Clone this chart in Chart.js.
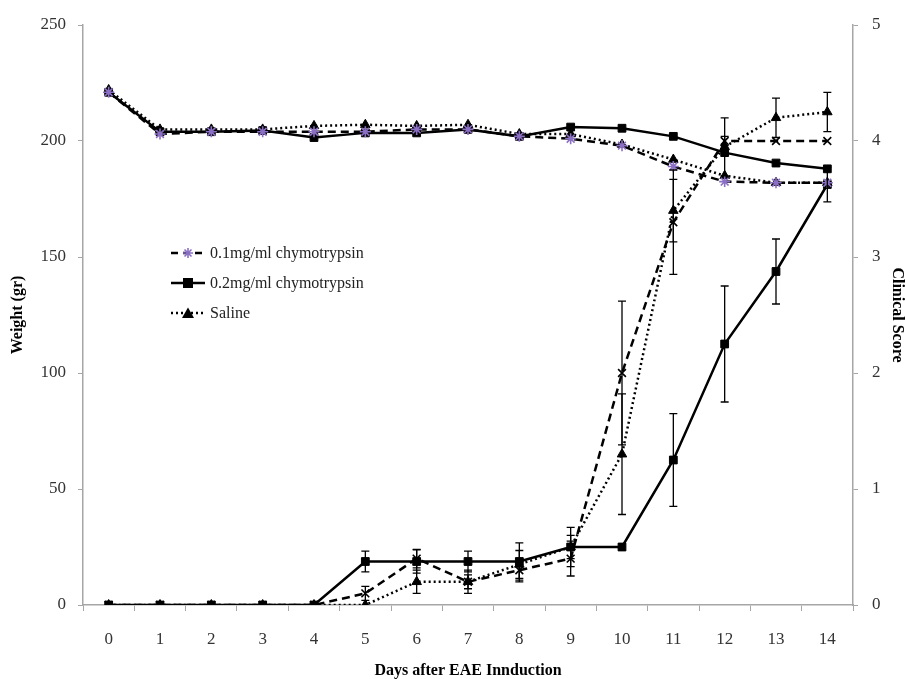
<!DOCTYPE html>
<html>
<head>
<meta charset="utf-8">
<script src="https://cdn.jsdelivr.net/npm/chart.js@4.4.1/dist/chart.umd.min.js"></script>
<style>
    body { margin: 0; background: #fff; }
    #chartBox { position: relative; width: 905px; height: 679px; }
    #legend {
        position: absolute; left: 170px; top: 238px;
        font-family: 'Liberation Serif', serif; font-size: 16px; color: #222;
    }
    #legend div { height: 30px; display: flex; align-items: center; }
    #legend svg { margin-right: 4px; }
</style>
</head>
<body>
<div id="chartBox">
    <canvas id="eaeChart" width="905" height="679"></canvas>
    <div id="legend">
        <div><svg width="36" height="14"><line x1="1" y1="7" x2="35" y2="7" stroke="#000" stroke-width="2.5" stroke-dasharray="7,5"/><path d="M13 7h10M18 2v10M14.5 3.5l7 7M21.5 3.5l-7 7" stroke="#8b6fc4" stroke-width="1.6"/></svg>0.1mg/ml chymotrypsin</div>
        <div><svg width="36" height="14"><line x1="1" y1="7" x2="35" y2="7" stroke="#000" stroke-width="2.5"/><rect x="13" y="2" width="10" height="10" fill="#000"/></svg>0.2mg/ml chymotrypsin</div>
        <div><svg width="36" height="14"><line x1="1" y1="7" x2="35" y2="7" stroke="#000" stroke-width="2.5" stroke-dasharray="2,3"/><path d="M18 1.5L24 12H12Z" fill="#000"/></svg>Saline</div>
    </div>
</div>
<script>
const days = ['0', '1', '2', '3', '4', '5', '6', '7', '8', '9', '10', '11', '12', '13', '14'];

// weight (gr), left axis
const weightLow = [221, 203, 204, 204, 204, 204, 205, 205, 202, 201, 198, 189, 182.5, 182, 182];
const weightHigh = [221, 204, 204, 204.5, 201.5, 203.5, 203.5, 205, 202, 206, 205.5, 202, 195, 190.5, 188];
const weightSaline = [222, 205, 205, 205, 206.5, 207, 206.5, 207, 203, 203, 198.5, 192, 185, 182, 182];

// clinical score, right axis
const scoreLow = [0, 0, 0, 0, 0, 0.1, 0.4, 0.2, 0.3, 0.4, 2.0, 3.3, 4.0, 4.0, 4.0];
const scoreHigh = [0, 0, 0, 0, 0, 0.375, 0.375, 0.375, 0.375, 0.5, 0.5, 1.25, 2.25, 2.875, 3.625];
const scoreSaline = [0, 0, 0, 0, 0, 0, 0.2, 0.2, 0.35, 0.5, 1.3, 3.4, 3.95, 4.2, 4.25];

// error bars (+/-) for the clinical score
const errLow = [0, 0, 0, 0, 0, 0.06, 0.08, 0.06, 0.1, 0.15, 0.62, 0.45, 0.04, 0, 0];
const errHigh = [0, 0, 0, 0, 0, 0.09, 0.1, 0.09, 0.16, 0.17, 0, 0.4, 0.5, 0.28, 0.15];
const errSaline = [0, 0, 0, 0, 0, 0, 0.1, 0.1, 0.12, 0.1, 0.52, 0.27, 0.25, 0.17, 0.17];

const serif = 'Liberation Serif';
const axisGray = '#a6a6a6';

// draws vertical error bars with caps for datasets that have an "errors" array
const errorBarPlugin = {
    id: 'errorBars',
    afterDatasetsDraw(chart) {
        const ctx = chart.ctx;
        chart.data.datasets.forEach((ds, i) => {
            if (!ds.errors) return;
            const meta = chart.getDatasetMeta(i);
            const yScale = chart.scales[ds.yAxisID];
            ctx.save();
            ctx.strokeStyle = '#000';
            ctx.lineWidth = 1.3;
            meta.data.forEach((pt, j) => {
                const e = ds.errors[j];
                if (!e) return;
                const top = yScale.getPixelForValue(ds.data[j] + e);
                const bottom = yScale.getPixelForValue(ds.data[j] - e);
                ctx.beginPath();
                ctx.moveTo(pt.x, top);
                ctx.lineTo(pt.x, bottom);
                ctx.moveTo(pt.x - 4, top);
                ctx.lineTo(pt.x + 4, top);
                ctx.moveTo(pt.x - 4, bottom);
                ctx.lineTo(pt.x + 4, bottom);
                ctx.stroke();
            });
            ctx.restore();
        });
    }
};

function lineSet(label, data, axis, dash, style, color, errors) {
    return {
        label: label,
        data: data,
        yAxisID: axis,
        borderColor: '#000',
        borderWidth: 2.5,
        borderDash: dash,
        pointStyle: style,
        pointRadius: 5.5,
        pointBorderWidth: style === 'star' || style === 'crossRot' ? 1.6 : 1,
        pointBackgroundColor: color,
        pointBorderColor: color,
        tension: 0,
        errors: errors
    };
}

const data = {
    labels: days,
    datasets: [
        lineSet('0.1mg/ml chymotrypsin', weightLow, 'y', [8, 5], 'star', '#8b6fc4'),
        lineSet('0.2mg/ml chymotrypsin', weightHigh, 'y', [], 'rect', '#000'),
        lineSet('Saline', weightSaline, 'y', [2, 3], 'triangle', '#000'),
        lineSet('0.1 score', scoreLow, 'y1', [8, 5], 'crossRot', '#000', errLow),
        lineSet('0.2 score', scoreHigh, 'y1', [], 'rect', '#000', errHigh),
        lineSet('Saline score', scoreSaline, 'y1', [2, 3], 'triangle', '#000', errSaline)
    ]
};

const tickFont = { family: serif, size: 17 };
const titleFont = { family: serif, size: 16, weight: 'bold', lineHeight: 1 };

const config = {
    type: 'line',
    data: data,
    options: {
        responsive: false,
        animation: false,
        layout: { padding: { top: 25, left: 0, right: 0, bottom: 0 } },
        plugins: {
            legend: { display: false },
            tooltip: { enabled: false }
        },
        scales: {
            x: {
                offset: true,
                grid: { offset: true, drawOnChartArea: false, color: axisGray, tickLength: 6 },
                border: { color: axisGray, width: 1.5 },
                ticks: { font: tickFont, color: '#333', padding: 18, maxRotation: 0 },
                title: { display: true, text: 'Days after EAE Innduction', font: titleFont, color: '#000', padding: 0 },
                afterFit: scale => { scale.height = 74; }
            },
            y: {
                position: 'left',
                min: 0,
                max: 250,
                ticks: { stepSize: 50, font: tickFont, color: '#333', padding: 12 },
                grid: { drawOnChartArea: false, color: axisGray, tickLength: 5 },
                border: { color: axisGray, width: 1.5 },
                title: { display: true, text: 'Weight (gr)', font: titleFont, color: '#000', padding: { top: 10, bottom: 0 } },
                afterFit: scale => { scale.width = 83; }
            },
            y1: {
                position: 'right',
                min: 0,
                max: 5,
                ticks: { stepSize: 1, font: tickFont, color: '#333', padding: 14 },
                grid: { drawOnChartArea: false, color: axisGray, tickLength: 5 },
                border: { color: axisGray, width: 1.5 },
                title: { display: true, text: 'Clinical Score', font: titleFont, color: '#000', padding: 0 },
                afterFit: scale => { scale.width = 52; }
            }
        }
    },
    plugins: [errorBarPlugin]
};

const myChart = new Chart(document.getElementById('eaeChart'), config);
</script>
</body>
</html>
